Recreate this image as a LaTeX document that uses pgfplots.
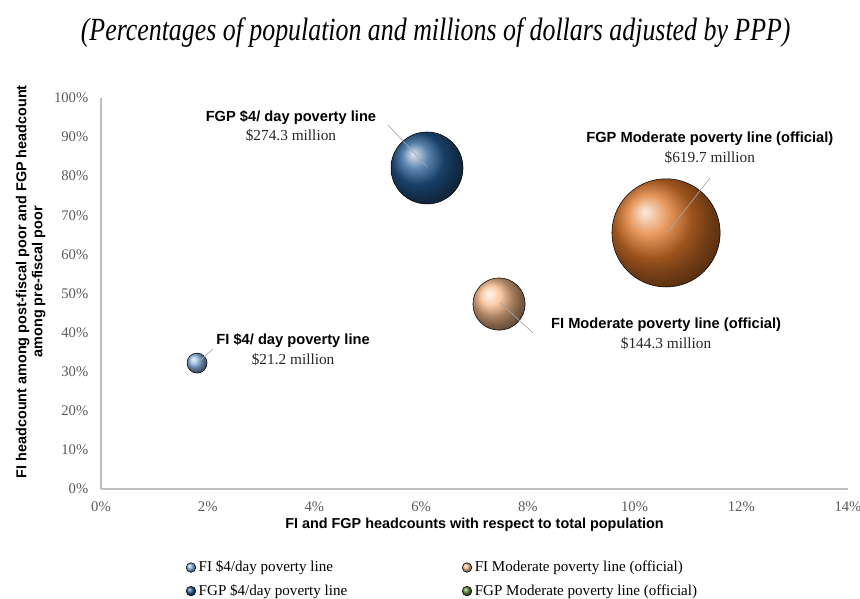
\documentclass[border=0pt]{standalone}
\usepackage{pgfplots}
\pgfplotsset{compat=1.18}
\usepackage{fontspec}
\setmainfont{Liberation Serif}
\setsansfont{Liberation Sans}

\definecolor{fiblue}{HTML}{8DB4E2}
\definecolor{fgpblue}{HTML}{235A92}
\definecolor{fiorange}{HTML}{F8BC8C}
\definecolor{fgporange}{HTML}{E0782A}
\definecolor{fgpgreen}{HTML}{4F8A2C}
\definecolor{axgray}{HTML}{BFBFBF}
\definecolor{tickgray}{HTML}{595959}
\definecolor{leadgray}{HTML}{A6A6A6}

% bubble radius grows with sqrt of the amount (area ~ millions of dollars)
\pgfplotsset{
  bubble/.style={
    scatter, only marks, mark=ball,
    scatter/use mapped color={ball color=#1},
    visualization depends on={1.63*sqrt(\thisrow{m}) \as \bubr},
    scatter/@pre marker code/.append style={/tikz/mark size=\bubr pt},
    legend image code/.code={\shade[ball color=#1] (0,0) circle (3.6pt);},
  },
}
\tikzset{
  lbl/.style={font=\sffamily\bfseries\fontsize{11}{13}\selectfont, anchor=center},
  val/.style={font=\fontsize{11.5}{13}\selectfont, text=black!85, anchor=center},
  lead/.style={draw=leadgray, line width=0.5pt},
}

\begin{document}
\begin{tikzpicture}
\useasboundingbox (0,0) rectangle (645pt,449.25pt);
\begin{axis}[
  at={(75.75pt,82.5pt)}, anchor=south west,
  scale only axis, width=560.25pt, height=293.25pt,
  xmin=0, xmax=14, ymin=0, ymax=100,
  xtick={0,2,...,14}, ytick={0,10,...,100},
  axis x line*=bottom, axis y line*=left,
  axis line style={-, draw=axgray, line width=0.8pt},
  major tick length=0pt,
  xticklabel={\pgfmathprintnumber{\tick}\%},
  yticklabel={\pgfmathprintnumber{\tick}\%},
  /pgf/number format/assume math mode=true,
  tick label style={font=\fontsize{11}{13}\selectfont, text=tickgray},
  xticklabel style={yshift=-6pt},
  yticklabel style={xshift=-6pt},
  clip=false,
  title={\scalebox{1}[1.25]{\itshape (Percentages of population and millions of dollars adjusted by PPP)}},
  title style={at={(rel axis cs:0.448,1.146)}, anchor=center, font=\fontsize{19.4}{22}\selectfont},
  xlabel={FI and FGP headcounts with respect to total population},
  xlabel style={at={(rel axis cs:0.5,-0.092)}, anchor=center, font=\sffamily\bfseries\fontsize{10.8}{12}\selectfont},
  ylabel={FI headcount among post-fiscal poor and FGP headcount\\among pre-fiscal poor},
  ylabel style={at={(rel axis cs:-0.094,0.53)}, anchor=center, align=center, font=\sffamily\bfseries\fontsize{10.8}{12}\selectfont},
  legend columns=2,
  legend cell align=left,
  legend style={at={(rel axis cs:0.108,-0.170)}, anchor=north west, draw=none, fill=none,
    font=\fontsize{11.3}{13}\selectfont, row sep=4pt,
    /tikz/every even column/.append style={column sep=84pt}},
]
\addplot[bubble=fiblue] table {
x y m
1.80 32.2 21.2
};
\addlegendentry{FI \$4/day poverty line}
\addplot[bubble=fiorange] table {
x y m
7.46 47.3 144.3
};
\addlegendentry{FI Moderate poverty line (official)}
\addplot[bubble=fgpblue] table {
x y m
6.11 82.1 274.3
};
\addlegendentry{FGP \$4/day poverty line}
\addplot[bubble=fgporange, legend image code/.code={\shade[ball color=fgpgreen] (0,0) circle (3.6pt);}] table {
x y m
10.59 65.5 619.7
};
\addlegendentry{FGP Moderate poverty line (official)}

% labels; leader line ends are kept as coordinates and drawn over the bubbles below
\node[lbl] at (axis cs:3.56,95.1) {FGP \$4/ day poverty line};
\node[val] at (axis cs:3.56,90.3) {\$274.3 million};
\coordinate (a1) at (axis cs:5.38,93.1);
\coordinate (b1) at (axis cs:6.11,82.4);

\node[lbl] at (axis cs:11.41,89.5) {FGP Moderate poverty line (official)};
\node[val] at (axis cs:11.41,84.7) {\$619.7 million};
\coordinate (a2) at (axis cs:11.41,79.5);
\coordinate (b2) at (axis cs:10.61,65.5);

\node[lbl] at (axis cs:10.59,41.9) {FI Moderate poverty line (official)};
\node[val] at (axis cs:10.59,37.3) {\$144.3 million};
\coordinate (a3) at (axis cs:7.48,47.6);
\coordinate (b3) at (axis cs:8.10,39.9);

\node[lbl] at (axis cs:3.60,37.9) {FI \$4/ day poverty line};
\node[val] at (axis cs:3.60,33.2) {\$21.2 million};
\coordinate (a4) at (axis cs:1.80,32.2);
\coordinate (b4) at (axis cs:2.10,35.8);
\end{axis}
\draw[lead] (a1) -- (b1);
\draw[lead] (a2) -- (b2);
\draw[lead] (a3) -- (b3);
\draw[lead] (a4) -- (b4);
\end{tikzpicture}
\end{document}
